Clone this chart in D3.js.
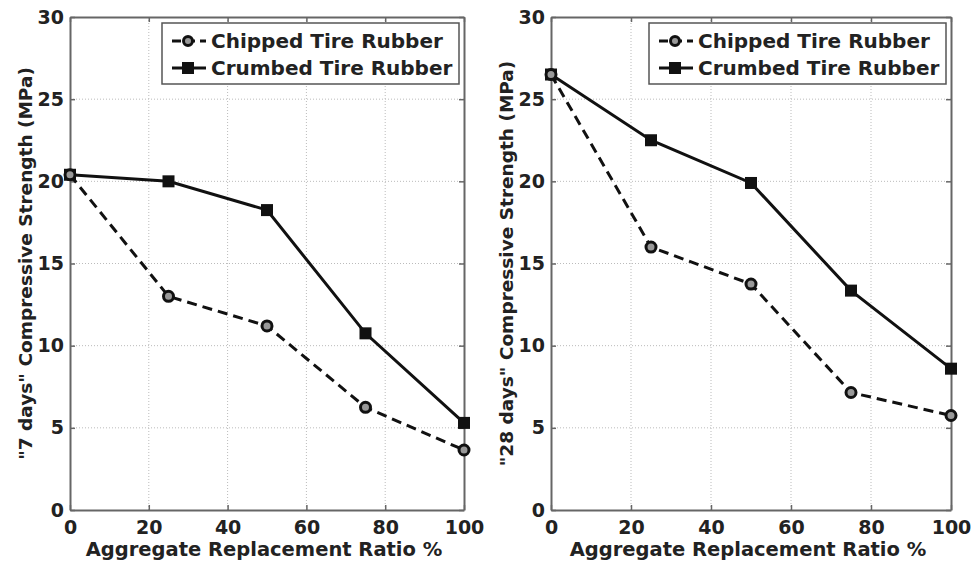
<!DOCTYPE html>
<html>
<head>
<meta charset="utf-8">
<script src="https://cdn.jsdelivr.net/npm/d3@7"></script>
<style>
  body { margin: 0; background: #fff; }
  svg text { font-family: "DejaVu Sans", "Liberation Sans", Arial, sans-serif; font-weight: bold; fill: #222; }
</style>
</head>
<body>
<div id="chart"></div>
<script>
// Data
var ratios = [0, 25, 50, 75, 100];
var chipped7 = [20.4, 13.0, 11.2, 6.25, 3.65];
var crumbed7 = [20.4, 20.0, 18.25, 10.75, 5.3];
var chipped28 = [26.5, 16.0, 13.75, 7.15, 5.75];
var crumbed28 = [26.5, 22.5, 19.9, 13.35, 8.6];
var xTicks = [0, 20, 40, 60, 80, 100];
var yTicks = [0, 5, 10, 15, 20, 25, 30];
var seriesNames = ["Chipped Tire Rubber", "Crumbed Tire Rubber"];

var svgWidth = 974;
var svgHeight = 562;

var svg = d3.select("#chart")
  .append("svg")
  .attr("width", svgWidth)
  .attr("height", svgHeight);

var panels = [
  { left: 70, right: 464, label: "\"7 days\" Compressive Strength (MPa)", labelX: 25, chipped: chipped7, crumbed: crumbed7 },
  { left: 551, right: 951, label: "\"28 days\" Compressive Strength (MPa)", labelX: 506, chipped: chipped28, crumbed: crumbed28 }
];
var plotTop = 17, plotBottom = 510;

panels.forEach(function(p) {
  var x = d3.scaleLinear().domain([0, 100]).range([p.left, p.right]);
  var y = d3.scaleLinear().domain([0, 30]).range([plotBottom, plotTop]);
  var g = svg.append("g");

  // grid
  g.selectAll(".gx").data(xTicks.slice(1, -1)).enter().append("line")
    .attr("x1", d => x(d)).attr("x2", d => x(d))
    .attr("y1", plotTop).attr("y2", plotBottom)
    .attr("stroke", "#bbb").attr("stroke-width", 1).attr("stroke-dasharray", "1,2");
  g.selectAll(".gy").data(yTicks.slice(1, -1)).enter().append("line")
    .attr("x1", p.left).attr("x2", p.right)
    .attr("y1", d => y(d)).attr("y2", d => y(d))
    .attr("stroke", "#bbb").attr("stroke-width", 1).attr("stroke-dasharray", "1,2");

  // axes (ticks inside)
  var bottomAxis = d3.axisBottom(x).tickValues(xTicks).tickSizeInner(-5).tickSizeOuter(0).tickPadding(11);
  var leftAxis = d3.axisLeft(y).tickValues(yTicks).tickSizeInner(-5).tickSizeOuter(0).tickPadding(6);
  var topAxis = d3.axisTop(x).tickValues(xTicks).tickSizeInner(-5).tickSizeOuter(0).tickFormat("");
  var rightAxis = d3.axisRight(y).tickValues(yTicks).tickSizeInner(-5).tickSizeOuter(0).tickFormat("");

  [[bottomAxis, `translate(0,${plotBottom})`], [leftAxis, `translate(${p.left},0)`],
   [topAxis, `translate(0,${plotTop})`], [rightAxis, `translate(${p.right},0)`]].forEach(function(a) {
    var ag = g.append("g").attr("transform", a[1]).call(a[0]);
    ag.selectAll("path").attr("stroke", "#666").attr("stroke-width", 2);
    ag.selectAll("line").attr("stroke", "#666").attr("stroke-width", 1.5);
    ag.selectAll("text").style("font-size", "19px").attr("fill", "#222");
  });

  // axis labels
  g.append("text")
    .attr("x", (p.left + p.right) / 2 - 3)
    .attr("y", 556)
    .attr("text-anchor", "middle")
    .style("font-size", "19.5px")
    .text("Aggregate Replacement Ratio %");

  g.append("text")
    .attr("transform", `translate(${p.labelX + 7}, ${(plotTop + plotBottom) / 2}) rotate(-90)`)
    .attr("text-anchor", "middle")
    .style("font-size", "18.5px")
    .text(p.label);

  var line = d3.line().x((d, i) => x(ratios[i])).y(d => y(d));

  // chipped: dashed, open circles
  g.append("path").datum(p.chipped)
    .attr("d", line).attr("fill", "none")
    .attr("stroke", "#111").attr("stroke-width", 3).attr("stroke-dasharray", "10,6");
  // crumbed: solid, filled squares
  g.append("path").datum(p.crumbed)
    .attr("d", line).attr("fill", "none")
    .attr("stroke", "#111").attr("stroke-width", 3);

  g.selectAll(".sq").data(p.crumbed).enter().append("rect")
    .attr("x", (d, i) => x(ratios[i]) - 6).attr("y", d => y(d) - 6)
    .attr("width", 12).attr("height", 12).attr("fill", "#111");
  g.selectAll(".ci").data(p.chipped).enter().append("circle")
    .attr("cx", (d, i) => x(ratios[i])).attr("cy", d => y(d))
    .attr("r", 5).attr("fill", "#999").attr("stroke", "#111").attr("stroke-width", 3);

  // legend
  var lx = p.right - 302, ly = 23;
  var lg = g.append("g").attr("transform", `translate(${lx},${ly})`);
  lg.append("rect").attr("width", 297).attr("height", 61)
    .attr("fill", "#fff").attr("stroke", "#555").attr("stroke-width", 1.5);
  seriesNames.forEach(function(name, i) {
    var ry = 18 + i * 27;
    lg.append("line").attr("x1", 10).attr("x2", 44).attr("y1", ry).attr("y2", ry)
      .attr("stroke", "#111").attr("stroke-width", 3)
      .attr("stroke-dasharray", i === 0 ? "9,5" : null);
    if (i === 0) {
      lg.append("circle").attr("cx", 26).attr("cy", ry).attr("r", 4.5)
        .attr("fill", "#999").attr("stroke", "#111").attr("stroke-width", 3);
    } else {
      lg.append("rect").attr("x", 20).attr("y", ry - 6).attr("width", 12).attr("height", 12).attr("fill", "#111");
    }
    lg.append("text").attr("x", 49).attr("y", ry + 7)
      .style("font-size", "20px").text(name);
  });
});
</script>
</body>
</html>
